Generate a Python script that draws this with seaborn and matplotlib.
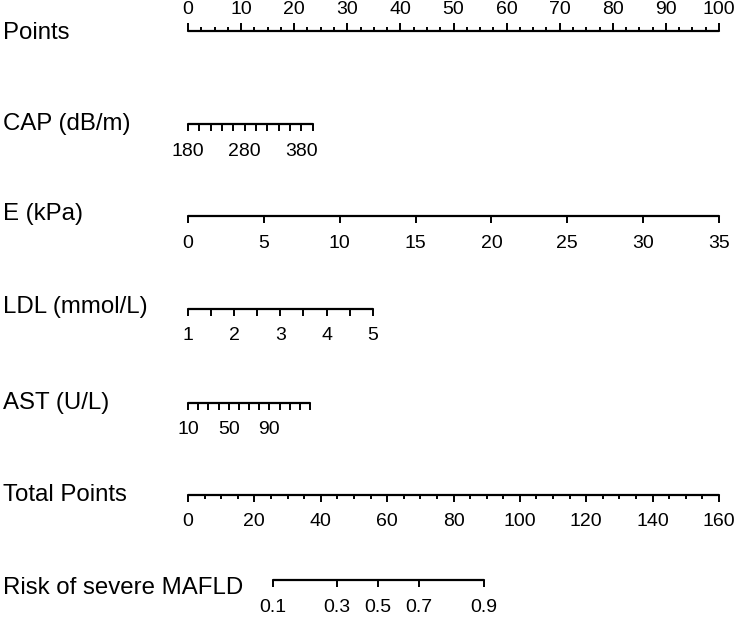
import numpy as np
import pandas as pd
import matplotlib
matplotlib.use("Agg")
import matplotlib.pyplot as plt
import seaborn as sns

# nomogram rows: name, value range, matching points range
row_names = ["Points", "CAP (dB/m)", "E (kPa)", "LDL (mmol/L)", "AST (U/L)",
             "Total Points", "Risk of severe MAFLD"]

points_ticks = np.arange(0, 100.1, 2.5)
points_labels = [0, 10, 20, 30, 40, 50, 60, 70, 80, 90, 100]

cap_range = [180, 400]
cap_points = [0, 23.5]
cap_ticks = np.arange(180, 401, 20)
cap_labels = [180, 280, 380]

e_range = [0, 35]
e_points = [0, 100]
e_ticks = [0, 5, 10, 15, 20, 25, 30, 35]
e_labels = [0, 5, 10, 15, 20, 25, 30, 35]

ldl_range = [1, 5]
ldl_points = [0, 34.8]
ldl_ticks = np.arange(1, 5.01, 0.5)
ldl_labels = [1, 2, 3, 4, 5]

ast_range = [10, 130]
ast_points = [0, 23.0]
ast_ticks = np.arange(10, 131, 10)
ast_labels = [10, 50, 90]

total_range = [0, 160]
total_ticks = np.arange(0, 160.1, 5)
total_labels = [0, 20, 40, 60, 80, 100, 120, 140, 160]

risk_labels = [0.1, 0.3, 0.5, 0.7, 0.9]
risk_total_points = [25.5, 44.9, 57.2, 69.6, 89.2]

row_y = [31, 124, 216, 309, 403, 495, 580]

sns.set_style("white")
plt.rcParams["font.family"] = ["Liberation Sans", "DejaVu Sans"]
plt.rcParams["text.color"] = "black"

fig = plt.figure(figsize=(7.38, 6.17), dpi=100)
ax = fig.add_axes([0, 0, 1, 1])

NAME_FS = 17.3
TICK_FS = 14
X0 = -188 / 5.31  # left edge of the figure in points units


def to_points(vals, vrange, prange):
    return np.interp(vals, vrange, prange)


def fmt(v):
    return f"{v:g}"


segments = []


def draw_row(i, tick_x, label_x, label_txt, major_x=None, up=False,
             tick_len=7, minor_len=7):
    y = row_y[i]
    segments.append({"row": i, "x": tick_x[0], "y": y})
    segments.append({"row": i, "x": tick_x[-1], "y": y})
    sgn = -1 if up else 1
    for tx in tick_x:
        is_major = major_x is None or np.any(np.isclose(tx, major_x))
        ln = tick_len if is_major else minor_len
        ax.plot([tx, tx], [y, y + sgn * ln], color="black", lw=1.4,
                solid_capstyle="butt")
    for lx, lt in zip(label_x, label_txt):
        ly = y - 21 if up else y + 27
        ax.text(lx, ly, lt, ha="center", va="center", fontsize=TICK_FS)


draw_row(0, points_ticks, points_labels, [fmt(v) for v in points_labels],
         major_x=points_labels, up=True, tick_len=8, minor_len=4)

cap_x = to_points(cap_ticks, cap_range, cap_points)
draw_row(1, cap_x, to_points(cap_labels, cap_range, cap_points),
         [fmt(v) for v in cap_labels])

e_x = to_points(e_ticks, e_range, e_points)
draw_row(2, e_x, to_points(e_labels, e_range, e_points),
         [fmt(v) for v in e_labels])

ldl_x = to_points(ldl_ticks, ldl_range, ldl_points)
draw_row(3, ldl_x, to_points(ldl_labels, ldl_range, ldl_points),
         [fmt(v) for v in ldl_labels])

ast_x = to_points(ast_ticks, ast_range, ast_points)
draw_row(4, ast_x, to_points(ast_labels, ast_range, ast_points),
         [fmt(v) for v in ast_labels])

tot_x = to_points(total_ticks, total_range, [0, 100])
draw_row(5, tot_x, to_points(total_labels, total_range, [0, 100]),
         [fmt(v) for v in total_labels],
         major_x=to_points(total_labels, total_range, [0, 100]),
         tick_len=7, minor_len=4)

risk_x = to_points(risk_total_points, total_range, [0, 100])
draw_row(6, risk_x, risk_x, [fmt(v) for v in risk_labels])

seg_df = pd.DataFrame(segments)
sns.lineplot(data=seg_df, x="x", y="y", units="row", estimator=None,
             color="black", lw=1.6, ax=ax, sort=False)

name_dy = [2, 0, -2, -2, 0, 0, 8]
for i, name in enumerate(row_names):
    ax.text(X0 + 3 / 5.31, row_y[i] + name_dy[i], name,
            ha="left", va="center", fontsize=NAME_FS)

ax.set_xlim(X0, (738 - 188) / 5.31)
ax.set_ylim(617, 0)
ax.axis("off")
fig.savefig("out.png", dpi=100)
